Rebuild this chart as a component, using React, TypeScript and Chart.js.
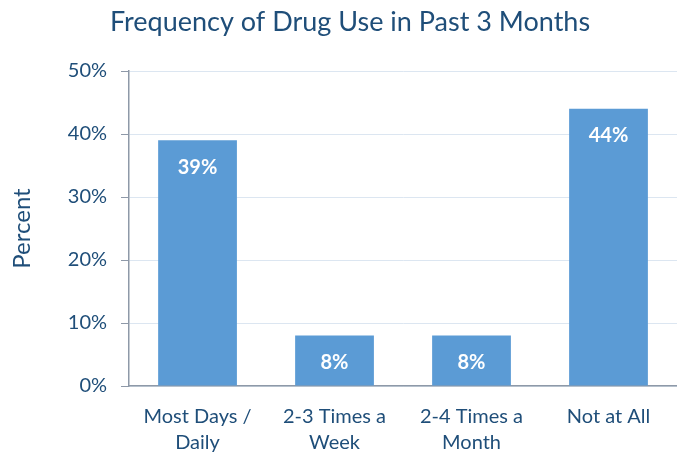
import React, { useEffect, useRef } from "react";
import { Chart, registerables } from "chart.js";

Chart.register(...registerables);

const categories: (string | string[])[] = [
  ["Most Days /", "Daily"],
  ["2-3 Times a", "Week"],
  ["2-4 Times a", "Month"],
  "Not at All",
];
const percentValues: number[] = [39, 8, 8, 44];
const yTicks: number[] = [0, 10, 20, 30, 40, 50];
const titleText = "Frequency of Drug Use in Past 3 Months";
const yAxisTitle = "Percent";

const TEXT = "#1F4E79";
const BAR = "#5B9BD5";
const FONT = "Lato, 'Open Sans', sans-serif";

const labelPlugin = {
  id: "barLabels",
  afterDatasetsDraw(chart: any) {
    const ctx = chart.ctx;
    const meta = chart.getDatasetMeta(0);
    ctx.save();
    ctx.fillStyle = "#FFFFFF";
    ctx.font = `bold 20px ${FONT}`;
    ctx.textAlign = "center";
    ctx.textBaseline = "middle";
    meta.data.forEach((bar: any, i: number) => {
      ctx.fillText(`${percentValues[i]}%`, bar.x, bar.y + 27);
    });
    ctx.restore();
  },
};

const titlePlugin = {
  id: "centeredTitle",
  afterDraw(chart: any) {
    const ctx = chart.ctx;
    ctx.save();
    ctx.fillStyle = TEXT;
    ctx.font = `27px ${FONT}`;
    ctx.textAlign = "center";
    ctx.textBaseline = "middle";
    ctx.fillText(titleText, 350, 22);
    ctx.restore();
  },
};

export default function App() {
  const ref = useRef<HTMLCanvasElement>(null);
  useEffect(() => {
    if (!ref.current) return;
    const chart = new Chart(ref.current, {
      type: "bar",
      data: {
        labels: categories,
        datasets: [
          {
            data: percentValues,
            backgroundColor: BAR,
            borderWidth: 0,
            categoryPercentage: 1,
            barPercentage: 0.575,
          },
        ],
      },
      options: {
        animation: false,
        responsive: false,
        maintainAspectRatio: false,
        layout: { padding: { left: 8, right: 0, top: 71, bottom: -9 } },
        plugins: {
          legend: { display: false },
          tooltip: { enabled: false },
          title: { display: false },
        },
        scales: {
          x: {
            grid: { display: false },
            border: { display: true, color: "#8E99A8", width: 1.5 },
            ticks: {
              color: TEXT,
              font: { family: FONT, size: 20, lineHeight: 1.3 },
              maxRotation: 0,
              padding: 10,
            },
          },
          y: {
            min: 0,
            max: 50,
            afterBuildTicks: (axis: any) => {
              axis.ticks = yTicks.map((v) => ({ value: v }));
            },
            grid: {
              color: "#DCE6F1",
              tickColor: "#8E99A8",
              tickLength: 8,
              drawTicks: true,
            },
            border: { display: true, color: "#8E99A8", width: 1.5 },
            ticks: {
              color: TEXT,
              font: { family: FONT, size: 20 },
              padding: 14,
              callback: (v: any) => `${v}%`,
            },
            title: {
              display: true,
              text: yAxisTitle,
              color: TEXT,
              font: { family: FONT, size: 24 },
              padding: { top: 0, bottom: 17 },
            },
          },
        },
      },
      plugins: [labelPlugin, titlePlugin],
    });
    return () => chart.destroy();
  }, []);
  return (
    <div style={{ position: "absolute", left: 0, top: 0, width: 677, height: 457, background: "#fff" }}>
      <canvas ref={ref} width={677} height={457} />
    </div>
  );
}
